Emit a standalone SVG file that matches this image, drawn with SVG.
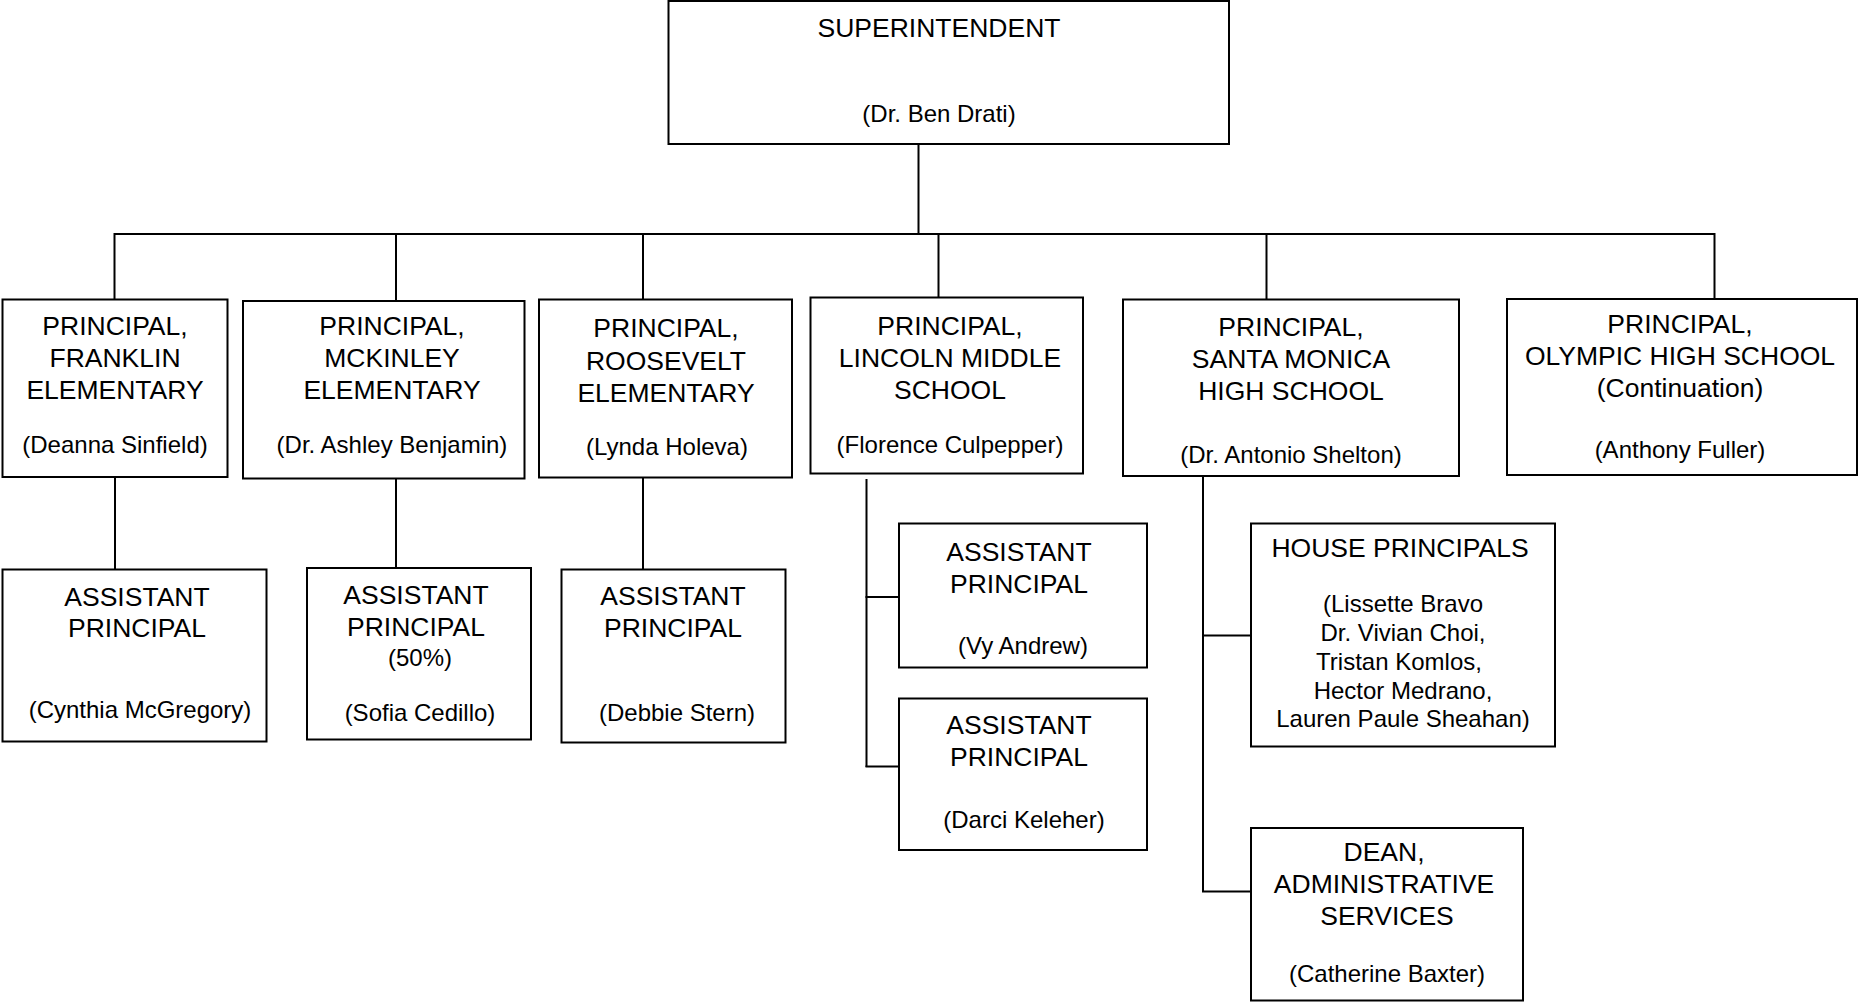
<svg xmlns="http://www.w3.org/2000/svg" width="1858" height="1002" viewBox="0 0 1858 1002">
<style>
rect.box{fill:#fff;stroke:#000;stroke-width:2}
.c line{stroke:#000;stroke-width:2}
text{font-family:"Liberation Sans",Arial,sans-serif;fill:#000;text-anchor:middle}
.t{font-size:26.5px}
.n{font-size:24px}
</style>
<rect width="1858" height="1002" fill="#fff"/>
<g class="c" id="connectors">
<line x1="918.5" y1="144" x2="918.5" y2="234"/>
<line x1="114.5" y1="234" x2="1714.5" y2="234"/>
<line x1="114.5" y1="233" x2="114.5" y2="299"/>
<line x1="396" y1="233" x2="396" y2="301"/>
<line x1="643" y1="233" x2="643" y2="299"/>
<line x1="938.5" y1="235" x2="938.5" y2="298"/>
<line x1="1266.5" y1="233" x2="1266.5" y2="299"/>
<line x1="1714.5" y1="233" x2="1714.5" y2="299"/>
<line x1="115" y1="477" x2="115" y2="569"/>
<line x1="396" y1="479" x2="396" y2="571"/>
<line x1="643" y1="477" x2="643" y2="569"/>
<line x1="866.5" y1="479" x2="866.5" y2="767"/>
<line x1="865.5" y1="597" x2="899" y2="597"/>
<line x1="865.5" y1="766.5" x2="899" y2="766.5"/>
<line x1="1203" y1="476" x2="1203" y2="892"/>
<line x1="1202" y1="635.5" x2="1251" y2="635.5"/>
<line x1="1202" y1="891.5" x2="1251" y2="891.5"/>
</g>
<g id="superintendent">
<rect class="box" x="668.5" y="1" width="560.5" height="143"/>
<text class="t" x="939" y="37">SUPERINTENDENT</text>
<text class="n" x="939" y="122">(Dr. Ben Drati)</text>
</g>
<g id="franklin">
<rect class="box" x="2.5" y="299.5" width="225" height="177.5"/>
<text class="t" x="115" y="335">PRINCIPAL,</text>
<text class="t" x="115" y="367">FRANKLIN</text>
<text class="t" x="115" y="399">ELEMENTARY</text>
<text class="n" x="115" y="453">(Deanna Sinfield)</text>
</g>
<g id="mckinley">
<rect class="box" x="243" y="301" width="281.5" height="177.5"/>
<text class="t" x="392" y="335">PRINCIPAL,</text>
<text class="t" x="392" y="367">MCKINLEY</text>
<text class="t" x="392" y="399">ELEMENTARY</text>
<text class="n" x="392" y="453">(Dr. Ashley Benjamin)</text>
</g>
<g id="roosevelt">
<rect class="box" x="539" y="299.5" width="253" height="178"/>
<text class="t" x="666" y="337">PRINCIPAL,</text>
<text class="t" x="666" y="370">ROOSEVELT</text>
<text class="t" x="666" y="402">ELEMENTARY</text>
<text class="n" x="667" y="455">(Lynda Holeva)</text>
</g>
<g id="lincoln">
<rect class="box" x="810.5" y="297.5" width="272.5" height="176"/>
<text class="t" x="950" y="335">PRINCIPAL,</text>
<text class="t" x="950" y="367">LINCOLN MIDDLE</text>
<text class="t" x="950" y="399">SCHOOL</text>
<text class="n" x="950" y="453">(Florence Culpepper)</text>
</g>
<g id="santamonica">
<rect class="box" x="1123" y="299.5" width="336" height="176.5"/>
<text class="t" x="1291" y="336">PRINCIPAL,</text>
<text class="t" x="1291" y="368">SANTA MONICA</text>
<text class="t" x="1291" y="400">HIGH SCHOOL</text>
<text class="n" x="1291" y="463">(Dr. Antonio Shelton)</text>
</g>
<g id="olympic">
<rect class="box" x="1507" y="299" width="350" height="176"/>
<text class="t" x="1680" y="333">PRINCIPAL,</text>
<text class="t" x="1680" y="365">OLYMPIC HIGH SCHOOL</text>
<text class="t" x="1680" y="397">(Continuation)</text>
<text class="n" x="1680" y="458">(Anthony Fuller)</text>
</g>
<g id="ap-franklin">
<rect class="box" x="2.5" y="569.5" width="264" height="172"/>
<text class="t" x="137" y="606">ASSISTANT</text>
<text class="t" x="137" y="637">PRINCIPAL</text>
<text class="n" x="140" y="718">(Cynthia McGregory)</text>
</g>
<g id="ap-mckinley">
<rect class="box" x="307" y="568" width="224" height="171.5"/>
<text class="t" x="416" y="604">ASSISTANT</text>
<text class="t" x="416" y="636">PRINCIPAL</text>
<text class="n" x="420" y="666">(50%)</text>
<text class="n" x="420" y="721">(Sofia Cedillo)</text>
</g>
<g id="ap-roosevelt">
<rect class="box" x="561.5" y="569.5" width="224" height="173"/>
<text class="t" x="673" y="605">ASSISTANT</text>
<text class="t" x="673" y="637">PRINCIPAL</text>
<text class="n" x="677" y="721">(Debbie Stern)</text>
</g>
<g id="ap-lincoln-1">
<rect class="box" x="899" y="523.5" width="248" height="144"/>
<text class="t" x="1019" y="561">ASSISTANT</text>
<text class="t" x="1019" y="593">PRINCIPAL</text>
<text class="n" x="1023" y="654">(Vy Andrew)</text>
</g>
<g id="ap-lincoln-2">
<rect class="box" x="899" y="698.5" width="248" height="151.5"/>
<text class="t" x="1019" y="734">ASSISTANT</text>
<text class="t" x="1019" y="766">PRINCIPAL</text>
<text class="n" x="1024" y="828">(Darci Keleher)</text>
</g>
<g id="house-principals">
<rect class="box" x="1251" y="523.5" width="304" height="223"/>
<text class="t" x="1400" y="557">HOUSE PRINCIPALS</text>
<text class="n" x="1403" y="612">(Lissette Bravo</text>
<text class="n" x="1403" y="641">Dr. Vivian Choi,</text>
<text class="n" x="1399" y="670">Tristan Komlos,</text>
<text class="n" x="1403" y="699">Hector Medrano,</text>
<text class="n" x="1403" y="727">Lauren Paule Sheahan)</text>
</g>
<g id="dean">
<rect class="box" x="1251" y="828" width="272" height="172.5"/>
<text class="t" x="1384" y="861">DEAN,</text>
<text class="t" x="1384" y="893">ADMINISTRATIVE</text>
<text class="t" x="1387" y="925">SERVICES</text>
<text class="n" x="1387" y="982">(Catherine Baxter)</text>
</g>
</svg>
